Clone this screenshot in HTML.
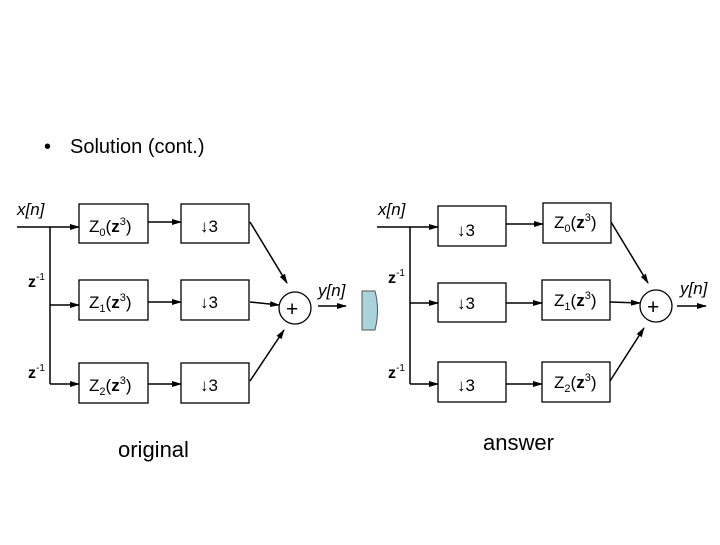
<!DOCTYPE html>
<html><head><style>
body{margin:0;background:#fff;}
svg text{font-family:"Liberation Sans",Arial,sans-serif;fill:#000;}
</style></head><body>
<svg width="720" height="540" viewBox="0 0 720 540" xmlns="http://www.w3.org/2000/svg">
<defs><marker id="a" markerWidth="10" markerHeight="8" refX="9" refY="4" orient="auto" markerUnits="userSpaceOnUse"><path d="M0,1 L10,4 L0,7 Z" fill="#000"/></marker></defs>
<rect width="720" height="540" fill="#fff"/>
<text x="44" y="153" font-size="20">•</text>
<text x="70" y="153" font-size="20">Solution (cont.)</text>
<g stroke="#000" stroke-width="1.3" fill="#fff">
<rect x="79" y="204" width="69" height="39"/><rect x="181" y="204" width="68" height="39"/>
<rect x="79" y="280" width="69" height="40"/><rect x="181" y="280" width="68" height="40"/>
<rect x="79" y="363" width="69" height="40"/><rect x="181" y="363" width="68" height="40"/>
<circle cx="295" cy="308" r="16"/>
<rect x="438" y="206" width="68" height="40"/><rect x="543" y="203" width="68" height="40"/>
<rect x="438" y="283" width="68" height="39"/><rect x="542" y="280" width="68" height="40"/>
<rect x="438" y="362" width="68" height="40"/><rect x="542" y="362" width="68" height="40"/>
<circle cx="656" cy="306" r="16"/>
</g>
<g stroke="#000" stroke-width="1.5" fill="none">
<line x1="17" y1="227" x2="79" y2="227" marker-end="url(#a)"/>
<line x1="50" y1="227" x2="50" y2="384"/>
<line x1="50" y1="305" x2="79" y2="305" marker-end="url(#a)"/>
<line x1="50" y1="384" x2="79" y2="384" marker-end="url(#a)"/>
<line x1="148" y1="222" x2="181" y2="222" marker-end="url(#a)"/>
<line x1="148" y1="302" x2="181" y2="302" marker-end="url(#a)"/>
<line x1="148" y1="384" x2="181" y2="384" marker-end="url(#a)"/>
<line x1="250" y1="222" x2="287" y2="283" marker-end="url(#a)"/>
<line x1="250" y1="302" x2="279" y2="305" marker-end="url(#a)"/>
<line x1="250" y1="381" x2="284" y2="330" marker-end="url(#a)"/>
<line x1="318" y1="306" x2="346" y2="306" marker-end="url(#a)"/>
<line x1="377" y1="227" x2="438" y2="227" marker-end="url(#a)"/>
<line x1="410" y1="227" x2="410" y2="384"/>
<line x1="410" y1="303" x2="438" y2="303" marker-end="url(#a)"/>
<line x1="410" y1="384" x2="438" y2="384" marker-end="url(#a)"/>
<line x1="506" y1="224" x2="543" y2="224" marker-end="url(#a)"/>
<line x1="506" y1="303" x2="542" y2="303" marker-end="url(#a)"/>
<line x1="506" y1="384" x2="542" y2="384" marker-end="url(#a)"/>
<line x1="611" y1="222" x2="648" y2="283" marker-end="url(#a)"/>
<line x1="610" y1="302" x2="640" y2="303" marker-end="url(#a)"/>
<line x1="610" y1="381" x2="644" y2="328" marker-end="url(#a)"/>
<line x1="677" y1="306" x2="706" y2="306" marker-end="url(#a)"/>
</g>
<path d="M362,291 L375,291 Q380,310 375,330 L362,330 Z" fill="#a9d3dc" stroke="#555" stroke-width="1"/>
<g font-size="17">
<text x="17" y="215" font-style="italic">x[n]</text>
<text x="28" y="287" font-weight="bold" font-size="16">z<tspan font-size="10" font-weight="normal" dy="-7">-1</tspan></text>
<text x="28" y="378" font-weight="bold" font-size="16">z<tspan font-size="10" font-weight="normal" dy="-7">-1</tspan></text>
<text x="89" y="232">Z<tspan font-size="11" dy="4">0</tspan><tspan dy="-4">(</tspan><tspan font-weight="bold">z</tspan><tspan font-size="11" dy="-7">3</tspan><tspan dy="7">)</tspan></text>
<text x="89" y="308">Z<tspan font-size="11" dy="4">1</tspan><tspan dy="-4">(</tspan><tspan font-weight="bold">z</tspan><tspan font-size="11" dy="-7">3</tspan><tspan dy="7">)</tspan></text>
<text x="89" y="391">Z<tspan font-size="11" dy="4">2</tspan><tspan dy="-4">(</tspan><tspan font-weight="bold">z</tspan><tspan font-size="11" dy="-7">3</tspan><tspan dy="7">)</tspan></text>
<text x="200" y="232">↓3</text><text x="200" y="308">↓3</text><text x="200" y="391">↓3</text>
<text x="286" y="316" font-size="21">+</text>
<text x="318" y="296" font-style="italic">y[n]</text>
<text x="378" y="215" font-style="italic">x[n]</text>
<text x="388" y="283" font-weight="bold" font-size="16">z<tspan font-size="10" font-weight="normal" dy="-7">-1</tspan></text>
<text x="388" y="378" font-weight="bold" font-size="16">z<tspan font-size="10" font-weight="normal" dy="-7">-1</tspan></text>
<text x="457" y="236">↓3</text><text x="457" y="309">↓3</text><text x="457" y="391">↓3</text>
<text x="554" y="228">Z<tspan font-size="11" dy="4">0</tspan><tspan dy="-4">(</tspan><tspan font-weight="bold">z</tspan><tspan font-size="11" dy="-7">3</tspan><tspan dy="7">)</tspan></text>
<text x="554" y="306">Z<tspan font-size="11" dy="4">1</tspan><tspan dy="-4">(</tspan><tspan font-weight="bold">z</tspan><tspan font-size="11" dy="-7">3</tspan><tspan dy="7">)</tspan></text>
<text x="554" y="388">Z<tspan font-size="11" dy="4">2</tspan><tspan dy="-4">(</tspan><tspan font-weight="bold">z</tspan><tspan font-size="11" dy="-7">3</tspan><tspan dy="7">)</tspan></text>
<text x="647" y="314" font-size="21">+</text>
<text x="680" y="294" font-style="italic">y[n]</text>
</g>
<text x="118" y="457" font-size="22">original</text>
<text x="483" y="450" font-size="22">answer</text>
</svg>
</body></html>
